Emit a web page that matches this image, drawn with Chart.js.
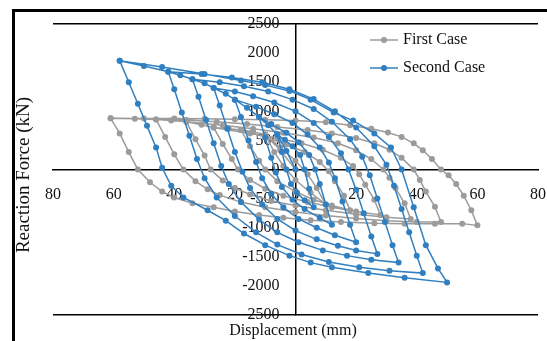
<!DOCTYPE html>
<html>
<head>
<meta charset="utf-8">
<script src="https://cdn.jsdelivr.net/npm/chart.js@4.4.0/dist/chart.umd.min.js"></script>
<style>
  html, body { margin: 0; padding: 0; background: #fff; overflow: hidden; }
  #wrap { position: relative; width: 547px; height: 341px; }
  #chart { position: absolute; left: 0; top: 0; }
  #frame { position: absolute; left: 12px; top: 9px; width: 560px; height: 360px; border: 3px solid #000; box-sizing: border-box; pointer-events: none; }
</style>
</head>
<body>
<div id="wrap">
  <canvas id="chart" width="547" height="341"></canvas>
  <div id="frame"></div>
</div>
<script>
// Axis setup
const xTitle = 'Displacement (mm)';
const yTitle = 'Reaction Force (kN)';
const xRange = [-80, 80];
const xStep = 20;
const yRange = [-2500, 2500];
const yStep = 500;

const seriesNames = ['First Case', 'Second Case'];
const seriesColors = ['#9b9b9b', '#2f7fc1'];

// First Case: [displacement (mm), force (kN)], loop by loop
const firstCase = [
    [0, 0], [-5, 330], [-10, 600],
    [-7, 300], [-4, 60], [0, -180], [5, -400], [10, -600],
    [7, -320], [4, -80], [0, 150], [-5, 380], [-10, 600],
    [-14, 650], [-18, 680],
    [-15, 400], [-12, 150], [-10, 0], [-6, -200], [0, -380], [6, -520], [12, -620], [18, -700],
    [16, -450], [13, -200], [11, -30], [8, 130], [3, 300], [-3, 430], [-10, 560], [-18, 680],
    [-22, 700], [-27, 720],
    [-24, 440], [-21, 180], [-19, 0], [-15, -180], [-10, -330], [-4, -450], [4, -560], [12, -650], [20, -720], [28, -780],
    [26, -520], [23, -260], [21, -80], [19, 60], [15, 200], [9, 340], [2, 450], [-6, 540], [-15, 620], [-27, 720],
    [-31, 770], [-36, 820],
    [-33, 520], [-30, 240], [-28, 0], [-24, -190], [-20, -320], [-15, -430], [-8, -540], [0, -620], [10, -700], [20, -770], [30, -820], [38, -850],
    [36, -580], [33, -320], [31, -140], [29, 0], [25, 180], [20, 330], [14, 450], [6, 550], [-4, 630], [-14, 700], [-24, 760], [-36, 820],
    [-41, 840], [-46, 860],
    [-43, 560], [-40, 260], [-37, 0], [-33, -200], [-29, -340], [-25, -440], [-18, -560], [-10, -650], [0, -730], [10, -790], [20, -840], [30, -880], [40, -900], [48, -900],
    [46, -640], [43, -380], [41, -180], [39, 0], [35, 200], [31, 340], [26, 450], [20, 540], [12, 620], [4, 680], [-6, 730], [-16, 780], [-26, 820], [-36, 850], [-46, 860],
    [-53, 870], [-61, 880],
    [-58, 620], [-55, 300], [-52, 0], [-48, -220], [-44, -380], [-40, -480], [-34, -580], [-27, -650], [-20, -720], [-12, -780], [-4, -830], [5, -870], [15, -900], [26, -925], [36, -930], [46, -930], [55, -930], [60, -960],
    [58, -700], [55.5, -450], [53, -250], [50.5, -100], [48, 0], [45, 180], [42, 330], [39, 450], [35, 560], [30.5, 635], [25, 700], [18, 760], [10, 810], [0, 840], [-10, 855], [-20, 865], [-30, 870], [-40, 875], [-50, 878], [-61, 880]
];

// Second Case: [displacement (mm), force (kN)], loop by loop
const secondCase = [
    [0, 0], [-3, 320], [-6, 600],
    [-4.5, 300], [-3, 0], [-1.5, -250], [0.5, -400], [3, -530], [6, -650],
    [4.5, -330], [3, 0], [1.5, 250], [-1, 400], [-3.5, 510], [-6, 600],
    [-9, 760], [-12, 900],
    [-10, 550], [-8, 200], [-6.5, -50], [-4.5, -300], [-1, -520], [3, -680], [8, -830], [12, -950],
    [10, -600], [8, -250], [6.5, 0], [4.5, 250], [1, 470], [-3, 630], [-8, 780], [-12, 900],
    [-16, 1060], [-20, 1200],
    [-18, 900], [-15.5, 500], [-13, 130], [-11, -150], [-8, -420], [-4, -650], [1, -850], [7, -1000], [13, -1130], [20, -1250],
    [18, -950], [15.5, -550], [13, -150], [11, 120], [8, 380], [4, 600], [-1, 800], [-7, 950], [-13, 1080], [-20, 1200],
    [-23, 1300], [-27, 1400],
    [-25, 1100], [-22.5, 700], [-20, 300], [-17.5, -40], [-15, -320], [-11, -600], [-6, -850], [0, -1050], [7, -1200], [14, -1310], [20, -1390], [27, -1450],
    [25, -1150], [22.5, -750], [20, -350], [17.5, 0], [15, 280], [11, 560], [6, 800], [0, 1000], [-7, 1150], [-14, 1260], [-20, 1340], [-27, 1400],
    [-30, 1480], [-34, 1550],
    [-32, 1250], [-29.5, 850], [-27, 450], [-24.5, 60], [-22, -250], [-18, -560], [-12, -860], [-6, -1080], [1, -1250], [9, -1390], [17, -1480], [25, -1550], [34, -1600],
    [32, -1300], [29.5, -900], [27, -500], [24.5, -100], [22, 220], [18, 520], [12, 820], [6, 1040], [-1, 1200], [-9, 1340], [-17, 1430], [-25, 1500], [-34, 1550],
    [-38, 1620], [-42, 1680],
    [-40, 1380], [-37.5, 980], [-35, 580], [-32.5, 180], [-30, -150], [-26, -480], [-20, -800], [-13, -1080], [-6, -1290], [2, -1460], [11, -1590], [21, -1680], [31, -1740], [42, -1780],
    [40, -1480], [37.5, -1080], [35, -680], [32.5, -280], [30, 80], [26, 400], [20, 720], [13, 1000], [6, 1210], [-2, 1380], [-11, 1500], [-21, 1580], [-31, 1640], [-42, 1680],
    [-50, 1780], [-58, 1870],
    [-55, 1500], [-52, 1130], [-49, 750], [-46, 380], [-44, 30], [-41, -280], [-37, -480], [-29, -700], [-23, -880], [-17, -1100], [-10, -1300], [-2, -1480], [5, -1600], [12, -1680], [24, -1780], [36, -1860], [50, -1940],
    [47, -1700], [43, -1300], [39, -650], [35, 0], [31.5, 380], [26, 620], [19, 840], [12.6, 980], [5, 1200], [-2, 1350], [-10, 1450], [-18, 1530], [-30, 1640], [-44, 1760], [-58, 1870]
];

const labelFont = { family: 'Liberation Serif', size: 16 };

function toPoints(pairs) {
    return pairs.map(p => ({ x: p[0], y: p[1] }));
}

// Titles and legend drawn on top of the plot
const extrasPlugin = {
    id: 'extras',
    afterDraw(chart) {
        const ctx = chart.ctx;
        ctx.save();
        ctx.fillStyle = '#111';
        ctx.font = '16px "Liberation Serif"';
        ctx.textAlign = 'center';
        ctx.textBaseline = 'middle';
        ctx.fillText(xTitle, 293, 331);

        ctx.save();
        ctx.translate(24, 175);
        ctx.rotate(-Math.PI / 2);
        ctx.font = '19px "Liberation Serif"';
        ctx.fillText(yTitle, 0, 0);
        ctx.restore();

        // legend
        ctx.textAlign = 'left';
        seriesNames.forEach((name, i) => {
            const y = 40 + i * 28;
            ctx.strokeStyle = seriesColors[i];
            ctx.lineWidth = 1.5;
            ctx.beginPath();
            ctx.moveTo(370, y);
            ctx.lineTo(398, y);
            ctx.stroke();
            ctx.fillStyle = seriesColors[i];
            ctx.beginPath();
            ctx.arc(384, y, 3, 0, Math.PI * 2);
            ctx.fill();
            ctx.fillStyle = '#111';
            ctx.fillText(name, 403, y);
        });
        ctx.restore();
    }
};

const ctx = document.getElementById('chart').getContext('2d');
new Chart(ctx, {
    type: 'scatter',
    data: {
        datasets: [
            {
                label: seriesNames[0],
                data: toPoints(firstCase),
                showLine: true,
                borderColor: seriesColors[0],
                backgroundColor: seriesColors[0],
                borderWidth: 1.5,
                pointRadius: 3,
                pointBorderWidth: 0,
                order: 2
            },
            {
                label: seriesNames[1],
                data: toPoints(secondCase),
                showLine: true,
                borderColor: seriesColors[1],
                backgroundColor: seriesColors[1],
                borderWidth: 1.5,
                pointRadius: 3,
                pointBorderWidth: 0,
                order: 1
            }
        ]
    },
    options: {
        responsive: false,
        animation: false,
        layout: { padding: { left: 53, right: 9, top: 24, bottom: 26 } },
        plugins: {
            legend: { display: false },
            tooltip: { enabled: false }
        },
        scales: {
            x: {
                type: 'linear',
                position: { y: 0 },
                min: xRange[0],
                max: xRange[1],
                // axis sits inside the plot, so it should not eat layout space
                afterFit: s => { s.height = 0; s.paddingLeft = 0; s.paddingRight = 0; },
                ticks: {
                    stepSize: xStep,
                    autoSkip: false,
                    maxRotation: 0,
                    padding: 16,
                    color: '#111',
                    font: labelFont,
                    callback: v => Math.abs(v)
                },
                grid: { display: false, drawTicks: false },
                border: { display: true, color: '#000', width: 1.5 }
            },
            y: {
                type: 'linear',
                position: { x: 0 },
                min: yRange[0],
                max: yRange[1],
                afterFit: s => { s.width = 0; s.paddingTop = 0; s.paddingBottom = 0; },
                ticks: {
                    stepSize: yStep,
                    autoSkip: false,
                    color: '#111',
                    font: labelFont,
                    // keep the labels clear of the axis line
                    callback: v => String(v) + '\u2003'
                },
                grid: {
                    drawTicks: false,
                    lineWidth: 1.5,
                    color: c => (Math.abs(c.tick.value) === 2500 ? '#000' : 'rgba(0,0,0,0)')
                },
                border: { display: true, color: '#000', width: 1.5 }
            }
        }
    },
    plugins: [extrasPlugin]
});
</script>
</body>
</html>
